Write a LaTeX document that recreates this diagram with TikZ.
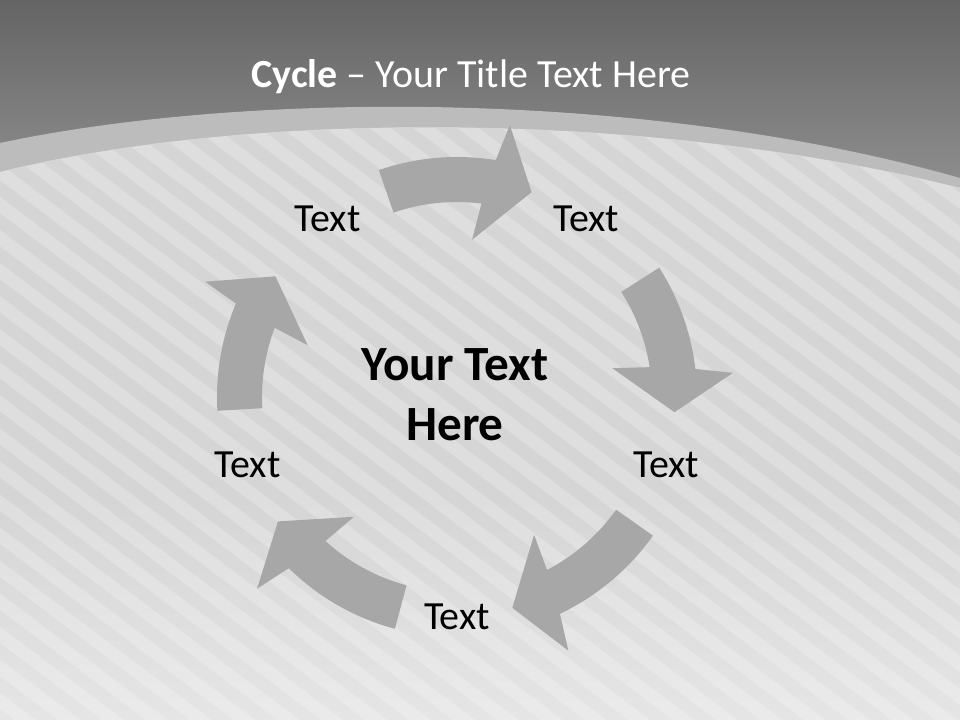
\documentclass[tikz,border=0pt]{standalone}
\usepackage{fontspec}
\setmainfont{Carlito}
\usetikzlibrary{positioning,calc,fadings}
\definecolor{headerdark}{RGB}{100,100,100}
\definecolor{headerlight}{RGB}{150,150,150}
\definecolor{bandgray}{RGB}{188,188,188}
\definecolor{bodygray}{RGB}{222,222,222}
\definecolor{stripegray}{RGB}{213,213,213}
\definecolor{arrowgray}{RGB}{167,167,167}

\begin{document}
\begin{tikzpicture}[x=0.025cm, y=0.025cm,
    cyclearrow/.style={fill=arrowgray},
    steplabel/.style={font=\fontsize{28.4}{34}\selectfont, text=black, inner sep=0pt}]
  \useasboundingbox (0,0) rectangle (960,720);

  % Header
  \shade[top color=headerdark, bottom color=headerlight] (0,500) rectangle (960,720);
  \fill[bandgray] (0,500) -- (0,577) .. controls (250,630) and (650,630) .. (960,542) -- (960,500) -- cycle;

  % Body with stripes
  \fill[bodygray] (0,0) -- (0,548) .. controls (250,610) and (650,610) .. (960,532) -- (960,0) -- cycle;
  \begin{scope}
    \clip (0,0) -- (0,548) .. controls (250,610) and (650,610) .. (960,532) -- (960,0) -- cycle;
    \begin{scope}[rotate around={-37:(480,360)}]
      \foreach \k in {-30,...,30}
        \fill[stripegray] (-500,360+\k*26.4) rectangle (1500,360+\k*26.4+13);
    \end{scope}
    \fill[white, opacity=0.4, path fading=north] (0,0) rectangle (960,230);
  \end{scope}

  % Title
  \node[font=\fontsize{28.4}{34}\selectfont, text=white, anchor=base] (title) at (471,632)
    {\textbf{Cycle} \textendash{} Your Title Text Here};

  % Cycle
  \coordinate (cyc) at (457,323);
  \begin{scope}[shift={(cyc)}]
    \foreach \a/\t in {109/70, 32.6/-4, -35.3/-75.3, -105/-145.2, 183.3/146.4}
      \fill[cyclearrow] (\a:240) arc[start angle=\a, end angle=\t+10.7, radius=240]
        -- (\t+9:277) -- (\t:218) -- (\t+14.5:158) -- (\t+12.8:195)
        arc[start angle=\t+12.8, end angle=\a, radius=195] -- cycle;
  \end{scope}

  % Labels
  \foreach \ang/\nm in {126/lbltl, 54/lbltr, -18/lblr, -90/lblb, 198/lbll}
    \node[steplabel] (\nm) at ([shift={(\ang:220)}]cyc) {Text};

  \node[font=\bfseries\fontsize{35}{43}\selectfont, align=center, inner sep=0pt] (hub) at (455,325)
    {Your Text\\Here};
\end{tikzpicture}
\end{document}
